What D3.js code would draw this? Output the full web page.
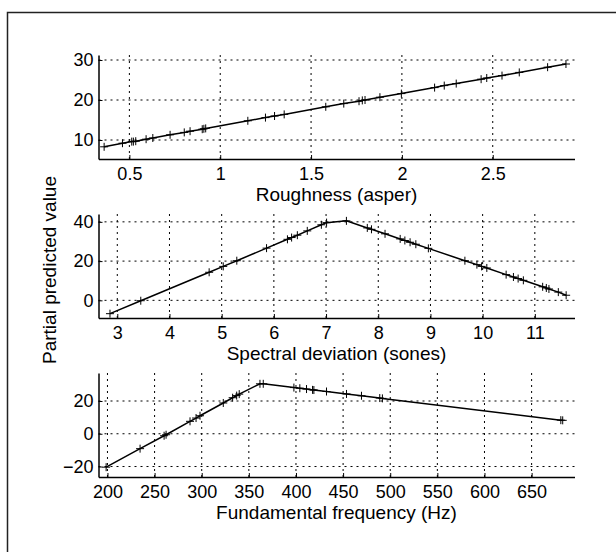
<!DOCTYPE html>
<html>
<head>
<meta charset="utf-8">
<script src="https://cdn.jsdelivr.net/npm/d3@7"></script>
<style>
  body { margin: 0; background: #fff; }
  svg { display: block; }
  text { font-family: "Liberation Sans", Arial, Helvetica, sans-serif; fill: #000; }
</style>
</head>
<body>
<svg id="drawing_region" width="616" height="552"></svg>
<script>
// roughness panel
const roughness = [0.361, 0.462, 0.513, 0.522, 0.535, 0.592, 0.629, 0.724, 0.802, 0.834,
  0.901, 0.910, 0.920, 1.152, 1.249, 1.299, 1.352, 1.581, 1.680, 1.764, 1.782, 1.797,
  1.879, 1.997, 2.180, 2.233, 2.299, 2.436, 2.467, 2.551, 2.646, 2.802, 2.903];
const roughnessPv = [8.3, 9.2, 9.6, 9.6, 9.7, 10.2, 10.5, 11.3, 11.9, 12.2,
  12.7, 12.8, 12.9, 14.8, 15.6, 16.0, 16.4, 18.3, 19.1, 19.7, 19.9, 20.0,
  20.7, 21.6, 23.1, 23.6, 24.1, 25.2, 25.5, 26.1, 26.9, 28.2, 29.0];

// spectral deviation panel
const spectral = [2.86, 3.45, 4.76, 5.03, 5.29, 5.86, 6.26, 6.34, 6.45, 6.64, 6.91, 7.01,
  7.39, 7.79, 7.87, 8.13, 8.42, 8.51, 8.61, 8.72, 8.96, 9.66, 9.89, 9.98, 10.08,
  10.45, 10.59, 10.68, 10.78, 11.15, 11.22, 11.27, 11.45, 11.60];
const spectralPv = [-6.8, -0.2, 14.3, 17.3, 20.2, 26.6, 31.1, 32.0, 33.2, 35.4, 38.5, 39.6,
  40.5, 36.9, 36.2, 33.9, 31.3, 30.5, 29.6, 28.6, 26.5, 20.2, 18.2, 17.3, 16.5,
  13.1, 11.9, 11.1, 10.2, 6.9, 6.3, 5.8, 4.2, 2.6];

// fundamental frequency panel
const f0 = [198.6, 234.6, 260.1, 262.2, 287.6, 294.0, 298.2, 322.9, 332.8, 337.1, 339.8,
  361.8, 365.3, 397.8, 404.1, 411.2, 417.6, 419.0, 432.4, 453.6, 469.5, 488.9, 491.7,
  681.0, 683.0];
const f0Pv = [-20.4, -9.1, -1.2, -0.6, 7.6, 9.6, 11.0, 18.8, 22.0, 23.3, 24.2,
  30.5, 30.5, 28.2, 27.8, 27.3, 26.8, 26.7, 25.8, 24.3, 23.2, 21.8, 21.6,
  8.3, 8.2];

const roughnessTicks = [0.5, 1, 1.5, 2, 2.5];
const spectralTicks = [3, 4, 5, 6, 7, 8, 9, 10, 11];
const f0Ticks = [200, 250, 300, 350, 400, 450, 500, 550, 600, 650];
const roughnessYTicks = [10, 20, 30];
const spectralYTicks = [0, 20, 40];
const f0YTicks = [-20, 0, 20];

const xLabels = ["Roughness (asper)", "Spectral deviation (sones)", "Fundamental frequency (Hz)"];
const yLabel = "Partial predicted value";

const svg = d3.select("#drawing_region");
const left = 98.5, right = 574.5, plotH = 104;

// figure frame
svg.append("rect")
  .attr("x", 7.5).attr("y", 12.5)
  .attr("width", 700).attr("height", 700)
  .attr("fill", "none")
  .attr("stroke", "#222")
  .attr("stroke-width", 1.5);

const panels = [
  { xs: roughness, ys: roughnessPv, xdom: [0.33, 2.95], ydom: [5.25, 31.25], top: 55,
    xticks: roughnessTicks, yticks: roughnessYTicks, label: xLabels[0] },
  { xs: spectral, ys: spectralPv, xdom: [2.64, 11.76], ydom: [-9, 44], top: 214,
    xticks: spectralTicks, yticks: spectralYTicks, label: xLabels[1] },
  { xs: f0, ys: f0Pv, xdom: [190.5, 695.5], ydom: [-26.4, 37.1], top: 373,
    xticks: f0Ticks, yticks: f0YTicks, label: xLabels[2] }
];

const fmt = v => v < 0 ? "\u2212" + Math.abs(v) : String(v);

panels.forEach(p => {
  const g = svg.append("g").attr("transform", `translate(${left}, ${p.top})`);
  const w = right - left;
  const x = d3.scaleLinear().domain(p.xdom).range([0, w]);
  const y = d3.scaleLinear().domain(p.ydom).range([plotH, 0]);

  // dotted grid
  g.append("g").selectAll("line").data(p.xticks).join("line")
    .attr("x1", d => x(d)).attr("x2", d => x(d))
    .attr("y1", 0).attr("y2", plotH)
    .attr("stroke", "#000").attr("stroke-width", 1)
    .attr("stroke-dasharray", "2,4");
  g.append("g").selectAll("line").data(p.yticks).join("line")
    .attr("x1", 0).attr("x2", w)
    .attr("y1", d => y(d)).attr("y2", d => y(d))
    .attr("stroke", "#000").attr("stroke-width", 1)
    .attr("stroke-dasharray", "2,4");

  // axes
  const xaxis = d3.axisBottom(x).tickValues(p.xticks).tickFormat(fmt)
    .tickSizeInner(-4).tickSizeOuter(0).tickPadding(8);
  const yaxis = d3.axisLeft(y).tickValues(p.yticks).tickFormat(fmt)
    .tickSizeInner(-4).tickSizeOuter(0).tickPadding(5);

  const xg = g.append("g").attr("transform", `translate(0, ${plotH})`).call(xaxis);
  const yg = g.append("g").call(yaxis);
  [xg, yg].forEach(a => {
    a.select(".domain").attr("stroke", "#000").attr("stroke-width", 1.5);
    a.selectAll(".tick line").attr("stroke", "#000");
    a.selectAll(".tick text").attr("font-size", 18).attr("fill", "#000")
      .attr("font-family", '"Liberation Sans", Arial, sans-serif');
  });

  g.append("text")
    .attr("x", w / 2).attr("y", plotH + 42)
    .attr("text-anchor", "middle")
    .attr("font-size", 19)
    .text(p.label);

  // line and + markers
  const pts = p.xs.map((v, i) => [v, p.ys[i]]);
  g.append("path")
    .datum(pts)
    .attr("fill", "none")
    .attr("stroke", "#000")
    .attr("stroke-width", 1.5)
    .attr("d", d3.line().x(d => x(d[0])).y(d => y(d[1])));

  g.append("g").selectAll("path").data(pts).join("path")
    .attr("transform", d => `translate(${x(d[0])}, ${y(d[1])})`)
    .attr("d", "M-4,0H4M0,-4V4")
    .attr("stroke", "#000")
    .attr("stroke-width", 1);
});

svg.append("text")
  .attr("transform", "translate(56, 270) rotate(-90)")
  .attr("text-anchor", "middle")
  .attr("font-size", 19)
  .text(yLabel);
</script>
</body>
</html>
